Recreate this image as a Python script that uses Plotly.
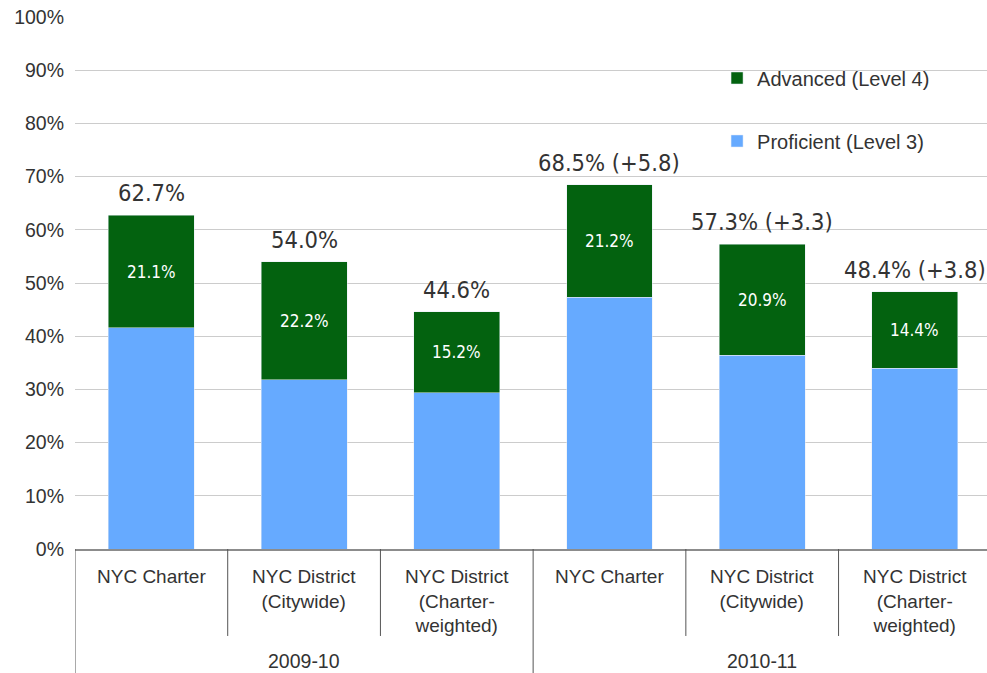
import plotly.graph_objects as go

categories = ["NYC Charter", "NYC District<br>(Citywide)", "NYC District<br>(Charter-<br>weighted)",
              "NYC Charter", "NYC District<br>(Citywide)", "NYC District<br>(Charter-<br>weighted)"]
groups = ["2009-10", "2010-11"]
proficient = [41.6, 31.8, 29.4, 47.3, 36.4, 34.0]
advanced = [21.1, 22.2, 15.2, 21.2, 20.9, 14.4]
totals = [62.7, 54.0, 44.6, 68.5, 57.3, 48.4]
total_labels = ["62.7%", "54.0%", "44.6%", "68.5% (+5.8)", "57.3% (+3.3)", "48.4% (+3.8)"]
adv_labels = ["21.1%", "22.2%", "15.2%", "21.2%", "20.9%", "14.4%"]
yticks = list(range(0, 101, 10))

xs = list(range(len(categories)))
GREEN = "#03620F"
BLUE = "#66AAFF"
AXFONT = "Liberation Sans, Arial, sans-serif"
NUMFONT = "DejaVu Sans Condensed, DejaVu Sans, sans-serif"

fig = go.Figure()
fig.add_trace(go.Bar(x=xs, y=proficient, name="Proficient (Level 3)", marker_color=BLUE,
                     width=0.563, legendgroup="p", legendrank=2, hoverinfo="skip"))
fig.add_trace(go.Bar(x=xs, y=advanced, name="Advanced (Level 4)", marker_color=GREEN,
                     width=0.563, legendgroup="a", legendrank=1, hoverinfo="skip"))

ann = []
for i in xs:
    ann.append(dict(x=i, y=totals[i], xref="x", yref="y", text=total_labels[i], showarrow=False,
                    yanchor="middle", yshift=22, font=dict(family=NUMFONT, size=23.5, color="#333333")))
    ann.append(dict(x=i, y=proficient[i] + advanced[i] / 2, xref="x", yref="y", text=adv_labels[i],
                    showarrow=False, yanchor="middle", font=dict(family=NUMFONT, size=17, color="white")))
    ann.append(dict(x=i, y=0, xref="x", yref="paper", text=categories[i], showarrow=False,
                    yanchor="top", yshift=-15, font=dict(family=AXFONT, size=19, color="#333333")))
for g, name in enumerate(groups):
    ann.append(dict(x=g * 3 + 1, y=0, xref="x", yref="paper", text=name, showarrow=False,
                    yanchor="middle", yshift=-112, font=dict(family=AXFONT, size=19.5, color="#333333")))

shapes = []
for b in [-0.5, 0.5, 1.5, 2.5, 3.5, 4.5]:
    long = abs((b + 0.5) % 3) < 1e-9
    shapes.append(dict(type="line", xref="x", yref="paper", x0=b, x1=b, y0=0,
                       y1=-0.24 if long else -0.1635, line=dict(color="#555555", width=1)))

fig.update_layout(
    width=987, height=673,
    margin=dict(l=75, r=0, t=17, b=124),
    paper_bgcolor="white", plot_bgcolor="white",
    barmode="stack",
    showlegend=True,
    legend=dict(x=0.704, y=0.922, xanchor="left", yanchor="top", traceorder="grouped",
                tracegroupgap=34, font=dict(family=AXFONT, size=20, color="#333333"),
                bgcolor="rgba(0,0,0,0)"),
    annotations=ann, shapes=shapes,
    xaxis=dict(range=[-0.5, 5.472], showticklabels=False, showgrid=False, zeroline=False,
               showline=True, linecolor="#8c8c8c", linewidth=1.5, ticks=""),
    yaxis=dict(range=[0, 100], tickvals=yticks, ticktext=[f"{v}%" for v in yticks],
               showgrid=True, gridcolor="#cccccc", gridwidth=1, zeroline=False, showline=False,
               ticks="", tickfont=dict(family=AXFONT, size=19.5, color="#333333"), ticklabelstandoff=10),
)
fig.write_html("out.html", config={"displayModeBar": False},
               post_script="document.body.style.margin='0';document.body.style.overflow='hidden';")
